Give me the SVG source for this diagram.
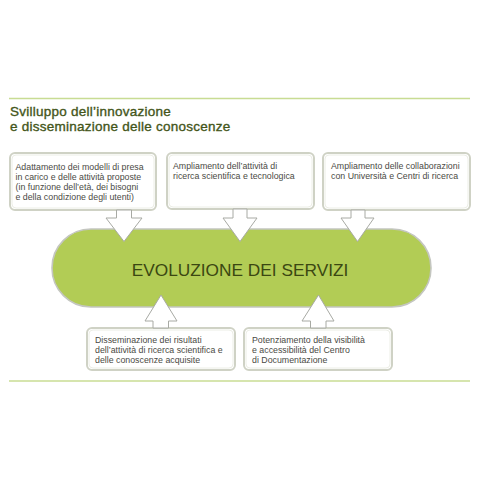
<svg xmlns="http://www.w3.org/2000/svg" width="480" height="480" viewBox="0 0 480 480">
<style>
.rule{stroke:#c8dc93;stroke-width:1.5}
.title{font-family:"Liberation Sans",Arial,sans-serif;font-size:13.5px;letter-spacing:0.25px;fill:#44561a;stroke:#44561a;stroke-width:0.35}
.box{fill:#ffffff;stroke:#cfd2c5;stroke-width:2}
.boxin{fill:none;stroke:#eceee6;stroke-width:1}
.lbl{font-family:"Liberation Sans",Arial,sans-serif;font-size:8.8px;fill:#4a4a44}
.pill{fill:#b2cc55;stroke:#c4c6c0;stroke-width:1.6}
.main{font-family:"Liberation Sans",Arial,sans-serif;font-size:17.3px;fill:#3b4712}
.arr{fill:#ffffff;stroke:#a8aaa4;stroke-width:1}
</style>
<rect width="480" height="480" fill="#ffffff"/>
<line class="rule" x1="9" y1="98.5" x2="470" y2="98.5"/>
<line class="rule" x1="9" y1="381" x2="470" y2="381"/>
<g id="title">
<text class="title" x="10" y="116">Svilluppo dell’innovazione</text>
<text class="title" x="10" y="131">e disseminazione delle conoscenze</text>
</g>
<g id="box1">
<rect class="box" x="10" y="153" width="146" height="57" rx="5"/>
<rect class="boxin" x="12" y="155" width="142" height="53" rx="4"/>
<text class="lbl" x="15.5" y="169.5">Adattamento dei modelli di presa</text>
<text class="lbl" x="15.5" y="179.5">in carico e delle attività proposte</text>
<text class="lbl" x="15.5" y="189.5">(in funzione dell’età, dei bisogni</text>
<text class="lbl" x="15.5" y="199.5">e della condizione degli utenti)</text>
</g>
<g id="box2">
<rect class="box" x="167" y="153" width="147" height="56" rx="5"/>
<rect class="boxin" x="169" y="155" width="143" height="52" rx="4"/>
<text class="lbl" x="173" y="169">Ampliamento dell’attività di</text>
<text class="lbl" x="173" y="179">ricerca scientifica e tecnologica</text>
</g>
<g id="box3">
<rect class="box" x="323" y="153" width="147" height="57" rx="5"/>
<rect class="boxin" x="325" y="155" width="143" height="53" rx="4"/>
<text class="lbl" x="331" y="169">Ampliamento delle collaborazioni</text>
<text class="lbl" x="331" y="179">con Università e Centri di ricerca</text>
</g>
<g id="evoluzione">
<rect class="pill" x="52" y="229" width="379" height="78" rx="39"/>
<text class="main" x="240" y="276" text-anchor="middle">EVOLUZIONE DEI SERVIZI</text>
</g>
<g id="box4">
<rect class="box" x="87" y="328" width="148" height="42" rx="5"/>
<rect class="boxin" x="89" y="330" width="144" height="38" rx="4"/>
<text class="lbl" x="95" y="343">Disseminazione dei risultati</text>
<text class="lbl" x="95" y="353">dell’attività di ricerca scientifica e</text>
<text class="lbl" x="95" y="363">delle conoscenze acquisite</text>
</g>
<g id="box5">
<rect class="box" x="244" y="328" width="148" height="42" rx="5"/>
<rect class="boxin" x="246" y="330" width="144" height="38" rx="4"/>
<text class="lbl" x="252" y="343">Potenziamento della visibilità</text>
<text class="lbl" x="252" y="353">e accessibilità del Centro</text>
<text class="lbl" x="252" y="363">di Documentazione</text>
</g>
<g id="connectors">
<path class="arr" d="M116.5,210 L131.5,210 L131.5,218 L142,218 L124,241.5 L106,218 L116.5,218 Z"/>
<path class="arr" d="M233,209 L247,209 L247,218 L257,218 L240,241.5 L223,218 L233,218 Z"/>
<path class="arr" d="M351,210 L365,210 L365,218 L374,218 L357.5,241.5 L341,218 L351,218 Z"/>
<path class="arr" d="M153,328 L168.5,328 L168.5,321 L177,321 L161,295 L145,321 L153,321 Z"/>
<path class="arr" d="M310.5,328 L326,328 L326,321 L334,321 L318.5,295 L302,321 L310.5,321 Z"/>
</g>
</svg>
